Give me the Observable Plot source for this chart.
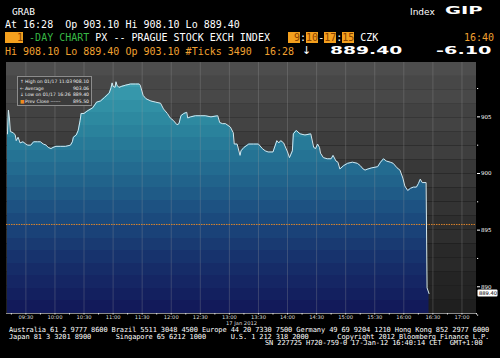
<!DOCTYPE html>
<html><head><meta charset="utf-8">
<script src="https://cdn.jsdelivr.net/npm/d3@7"></script>
<script src="https://cdn.jsdelivr.net/npm/@observablehq/plot@0.6"></script>
<style>
html,body{margin:0;padding:0;background:#000;}
#wrap{position:relative;width:500px;height:358px;overflow:hidden;background:#000;font-family:"DejaVu Sans Mono",monospace;color:#fff;}
.ln{position:absolute;white-space:pre;font-size:10px;line-height:12px;}
.o{color:#f0a030;}
.g{color:#37b845;}
.box{background:#f4a01e;color:#8a4200;}
.big{position:absolute;font-family:"DejaVu Sans",sans-serif;font-weight:bold;font-size:11px;line-height:12px;transform-origin:left center;white-space:pre;color:#fff;}
#chart{position:absolute;left:0;top:58px;}
#legend{position:absolute;left:17px;top:76px;width:75px;height:30px;background:#3b3b3b;border:1px solid #8c8c8c;font-family:"DejaVu Sans",sans-serif;font-size:4.6px;line-height:6.6px;color:#eee;padding-top:2px;box-sizing:border-box;}
#legend .r{position:relative;height:6.6px;padding-left:7px;}
#legend .ic{position:absolute;left:2px;top:0;}
#legend .v{position:absolute;right:2px;top:0;}
.ft{position:absolute;font-size:7px;letter-spacing:-0.11px;line-height:7px;white-space:pre;color:#fff;}
</style></head>
<body><div id="wrap">
<div class="ln" style="left:12px;top:6px;font-size:9.5px;">GRAB</div>
<div class="ln" style="left:410px;top:6px;font-family:'DejaVu Sans',sans-serif;font-size:9px;">Index</div>
<div class="big" style="left:445px;top:5px;font-size:10px;transform:scaleX(1.95);">GIP</div>
<div class="ln" style="left:5px;top:18.5px;">At 16:28  Op 903.10 Hi 908.10 Lo 889.40</div>
<div class="ln" style="left:5px;top:31.5px;"><span class="box">  1</span> <span class="g">-DAY CHART</span> PX -- PRAGUE STOCK EXCH INDEX   <span class="box"> 9</span>:<span class="box">10</span>-<span class="box">17</span>:<span class="box">15</span> CZK</div>
<div class="ln o" style="left:464px;top:31.5px;">16:40</div>
<div class="ln o" style="left:5px;top:45.5px;">Hi 908.10 Lo 889.40 Op 903.10 #Ticks 3490  16:28</div>
<div class="ln" style="left:302px;top:44.5px;font-family:'DejaVu Sans',sans-serif;font-size:11px;">↓</div>
<div class="big" style="left:330px;top:45px;transform:scaleX(1.7);">889.40</div>
<div class="big" style="left:436px;top:45px;transform:scaleX(1.75);">-6.10</div>
<div id="chart"></div>
<div id="legend">
  <div class="r"><span class="ic">↑</span>High on 01/17 11:03<span class="v">908.10</span></div>
  <div class="r"><span class="ic">←</span>Average<span class="v">903.06</span></div>
  <div class="r"><span class="ic">↓</span>Low on 01/17 16:26<span class="v">889.40</span></div>
  <div class="r"><span class="ic" style="color:#f08a1c">■</span>Prev Close ------<span class="v">895.50</span></div>
</div>
<div class="ft" style="left:9px;top:327px;">Australia 61 2 9777 8600 Brazil 5511 3048 4500 Europe 44 20 7330 7500 Germany 49 69 9204 1210 Hong Kong 852 2977 6000</div>
<div class="ft" style="left:9px;top:333.7px;">Japan 81 3 3201 8900      Singapore 65 6212 1000      U.S. 1 212 318 2000       Copyright 2012 Bloomberg Finance L.P.</div>
<div class="ft" style="left:265px;top:340.4px;">SN 227725 H720-759-0 17-Jan-12 16:40:14 CET  GMT+1:00</div>
</div>
<script>
// ---- data ----
const times = ["09:11","09:12","09:13","09:14","09:17","09:19","09:20","09:22","09:24","09:27","09:30","09:32","09:35","09:38","09:42","09:45","09:48","09:51","09:53","09:56","09:58","10:01","10:06","10:11","10:16","10:18","10:19","10:22","10:24","10:26","10:27","10:30","10:33","10:35","10:39","10:43","10:47","10:51","10:56","10:58","10:59","11:00","11:02","11:03","11:04","11:06","11:09","11:13","11:18","11:23","11:27","11:28","11:31","11:34","11:39","11:44","11:49","11:52","11:56","11:59","12:02","12:06","12:08","12:10","12:13","12:16","12:17","12:20","12:25","12:30","12:35","12:41","12:48","12:50","12:53","12:56","13:01","13:04","13:05","13:08","13:11","13:12","13:15","13:20","13:25","13:30","13:34","13:37","13:40","13:45","13:49","13:51","13:53","13:56","14:00","14:02","14:05","14:06","14:09","14:13","14:18","14:24","14:27","14:29","14:31","14:33","14:34","14:37","14:41","14:45","14:47","14:50","14:52","14:54","14:58","15:02","15:07","15:12","15:15","15:18","15:20","15:23","15:27","15:33","15:36","15:39","15:42","15:46","15:49","15:53","15:56","15:59","16:01","16:04","16:07","16:10","16:13","16:15","16:17","16:19","16:23","16:24","16:26"];
const values = [903.5,905.6,904.9,903.7,903.6,903.4,902.9,903.2,902.7,902.8,902.6,902.5,902.5,902.8,902.8,902.8,902.6,902.5,902.3,902.2,902.3,902.4,902.4,902.4,902.5,902.8,903.2,903.4,903.8,904.7,905.3,905.3,905.5,905.6,905.8,906.3,906.4,906.7,907.1,907.6,908.0,907.7,907.6,908.1,907.8,907.6,907.7,907.8,907.9,907.9,907.9,907.8,906.9,906.6,906.4,906.3,906.2,905.7,905.3,904.9,904.7,904.3,904.4,905.1,905.3,905.4,904.9,905.0,905.1,905.1,905.1,905.0,905.1,904.5,904.4,904.4,904.1,903.6,902.6,902.6,901.6,902.0,902.3,902.6,902.6,902.6,902.2,902.0,901.9,901.9,902.9,902.7,902.9,902.7,901.9,901.4,902.0,903.5,903.8,903.5,903.4,903.5,902.3,902.2,902.6,902.3,901.8,901.4,901.3,901.3,901.6,901.1,901.0,900.4,900.7,900.9,901.0,900.9,900.7,900.4,900.3,900.4,900.5,900.6,901.0,901.3,901.1,901.0,900.9,900.5,900.3,899.6,898.9,898.5,898.7,898.8,898.8,899.1,899.5,899.2,899.2,889.9,889.4];
const prevClose = 895.5;
const session = ["09:10","17:15"];
const xTickLabels = ["09:30","10:00","10:30","11:00","11:30","12:00","12:30","13:00","13:30","14:00","14:30","15:00","15:30","16:00","16:30","17:00"];
const yTicks = [890, 895, 900, 905];
const yMinor = [887.5, 892.5, 897.5, 902.5, 907.5];
const yRange = [887.64, 909.8];
const dateLabel = "17 Jan 2012";

// ---- helpers ----
const toMin = s => { const [h, m] = s.split(":").map(Number); return h * 60 + m; };
const fmt = m => String(Math.floor(m / 60)).padStart(2, "0") + ":" + String(m % 60).padStart(2, "0");
const data = times.map((t, i) => ({m: toMin(t), v: values[i]}));
const last = data[data.length - 1];
const xDom = session.map(toMin);
const xTicks = xTickLabels.map(toMin);
const xMinor = xTicks.map(t => t - 15).concat([xTicks[xTicks.length - 1] + 15]);

const nb = 18;
const edges = d3.range(nb + 1).map(i => yRange[0] + i * (yRange[1] - yRange[0]) / nb);
const bands = d3.range(nb).map(i => ({y1: edges[i], y2: edges[i + 1], i}));
const grayAt = d3.interpolateRgb("#1f1f1f", "#4a4a4a");
const areaAt = d3.interpolateRgbBasis(["#41a6b6", "#2c8aa0", "#236f92", "#1c4f80", "#17306c", "#121a5a"]);

function defs(index, scales, values, dims) {
  const top = dims.marginTop, bottom = dims.height - dims.marginBottom;
  const d = d3.create("svg:defs");
  const g = d.append("linearGradient").attr("id", "areaGrad").attr("gradientUnits", "userSpaceOnUse")
    .attr("x1", 0).attr("x2", 0).attr("y1", top).attr("y2", bottom);
  const n = 20;
  for (let i = 0; i < n; i++) {
    const c = areaAt(i / (n - 1));
    g.append("stop").attr("offset", i / n).attr("stop-color", c);
    g.append("stop").attr("offset", (i + 1) / n).attr("stop-color", c);
  }
  return d.node();
}

const chart = Plot.plot({
  width: 500, height: 300,
  marginTop: 4, marginBottom: 45, marginLeft: 6, marginRight: 24,
  x: {type: "linear", domain: xDom, label: null},
  y: {domain: yRange, label: null},
  style: {background: "transparent", color: "#fff", fontFamily: "DejaVu Sans, sans-serif"},
  marks: [
    defs,
    Plot.rect(bands, {x1: xDom[0], x2: xDom[1], y1: "y1", y2: "y2",
      fill: d => { const c = d3.rgb(grayAt(d.i / (nb - 1))); return (d.i % 2 ? c.brighter(0.12) : c).formatHex(); }}),
    Plot.areaY(data, {x: "m", y1: yRange[0], y2: "v", fill: "url(#areaGrad)"}),
    Plot.ruleX(xTicks, {stroke: "#a0a0a0", strokeOpacity: 0.35, strokeWidth: 0.8}),
    Plot.ruleY([prevClose], {stroke: "#d9822b", strokeWidth: 1, strokeDasharray: "1.5,1"}),
    Plot.lineY(data, {x: "m", y: "v", stroke: "#d3e8ef", strokeWidth: 1}),
    Plot.ruleY([yRange[0]], {stroke: "#b0b0b0", strokeWidth: 0.8}),
    Plot.axisX({ticks: xTicks, tickFormat: fmt, tickSize: 1.5, tickPadding: 0.5, fontSize: 5.2, color: "#ddd", label: null}),
    Plot.axisX({ticks: xMinor, tickFormat: () => "", tickSize: 1.5, color: "#ddd", label: null}),
    Plot.axisY({anchor: "right", ticks: yTicks, tickFormat: d => String(d), tickSize: 3, tickPadding: 1.5, fontSize: 5.5, color: "#fff", label: null}),
    Plot.axisY({anchor: "right", ticks: yMinor, tickFormat: () => "", tickSize: 1.2, color: "#fff", label: null}),
    Plot.text([dateLabel], {frameAnchor: "bottom", dy: 11.5, fontSize: 5.2, fill: "#ddd"}),
    Plot.rect([last], {x1: xDom[1], x2: xDom[1], y1: "v", y2: "v", insetLeft: 1.5, insetRight: -21.5, insetTop: -3.5, insetBottom: -3.5, fill: "#fff", rx: 1}),
    Plot.text([last], {x: xDom[1], y: "v", text: d => d.v.toFixed(2), dx: 11.5, fontSize: 5.2, fill: "#000"})
  ]
});
document.getElementById("chart").appendChild(chart);
</script>
</body></html>
